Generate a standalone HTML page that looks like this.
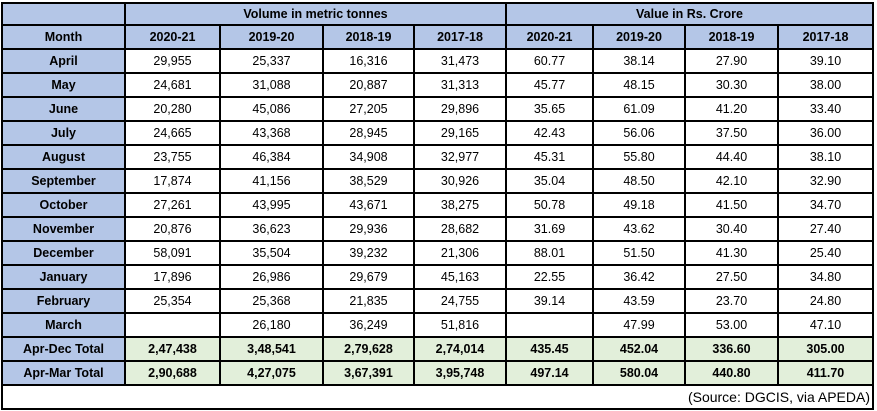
<!DOCTYPE html>
<html><head><style>
html,body{margin:0;padding:0;background:#fff;width:877px;height:411px;overflow:hidden}
table{position:absolute;left:1px;top:2px;border-collapse:collapse;font-family:"Liberation Sans",sans-serif;font-size:12.5px;color:#000;table-layout:fixed}
td{border:2px solid #000;height:22px;padding:0;text-align:center;line-height:22px}
.h{background:#b4c6e7;font-weight:bold}
.t{background:#e2efda;font-weight:bold}
.m{background:#b4c6e7;font-weight:bold}
.s{text-align:right;padding-right:2px;font-size:14px}
</style></head><body>
<table>
<colgroup><col style="width:123px"><col style="width:95px"><col style="width:103px"><col style="width:91px"><col style="width:92px"><col style="width:87px"><col style="width:92px"><col style="width:93px"><col style="width:95px"></colgroup>
<tr><td class="h" style="height:20px;line-height:20px"></td><td class="h" colspan="4" style="height:20px;line-height:20px">Volume in metric tonnes</td><td class="h" colspan="4" style="height:20px;line-height:20px">Value in Rs. Crore</td></tr>
<tr><td class="h">Month</td><td class="h">2020-21</td><td class="h">2019-20</td><td class="h">2018-19</td><td class="h">2017-18</td><td class="h">2020-21</td><td class="h">2019-20</td><td class="h">2018-19</td><td class="h">2017-18</td></tr>
<tr><td class="m">April</td><td>29,955</td><td>25,337</td><td>16,316</td><td>31,473</td><td>60.77</td><td>38.14</td><td>27.90</td><td>39.10</td></tr>
<tr><td class="m">May</td><td>24,681</td><td>31,088</td><td>20,887</td><td>31,313</td><td>45.77</td><td>48.15</td><td>30.30</td><td>38.00</td></tr>
<tr><td class="m">June</td><td>20,280</td><td>45,086</td><td>27,205</td><td>29,896</td><td>35.65</td><td>61.09</td><td>41.20</td><td>33.40</td></tr>
<tr><td class="m">July</td><td>24,665</td><td>43,368</td><td>28,945</td><td>29,165</td><td>42.43</td><td>56.06</td><td>37.50</td><td>36.00</td></tr>
<tr><td class="m">August</td><td>23,755</td><td>46,384</td><td>34,908</td><td>32,977</td><td>45.31</td><td>55.80</td><td>44.40</td><td>38.10</td></tr>
<tr><td class="m">September</td><td>17,874</td><td>41,156</td><td>38,529</td><td>30,926</td><td>35.04</td><td>48.50</td><td>42.10</td><td>32.90</td></tr>
<tr><td class="m">October</td><td>27,261</td><td>43,995</td><td>43,671</td><td>38,275</td><td>50.78</td><td>49.18</td><td>41.50</td><td>34.70</td></tr>
<tr><td class="m">November</td><td>20,876</td><td>36,623</td><td>29,936</td><td>28,682</td><td>31.69</td><td>43.62</td><td>30.40</td><td>27.40</td></tr>
<tr><td class="m">December</td><td>58,091</td><td>35,504</td><td>39,232</td><td>21,306</td><td>88.01</td><td>51.50</td><td>41.30</td><td>25.40</td></tr>
<tr><td class="m">January</td><td>17,896</td><td>26,986</td><td>29,679</td><td>45,163</td><td>22.55</td><td>36.42</td><td>27.50</td><td>34.80</td></tr>
<tr><td class="m">February</td><td>25,354</td><td>25,368</td><td>21,835</td><td>24,755</td><td>39.14</td><td>43.59</td><td>23.70</td><td>24.80</td></tr>
<tr><td class="m">March</td><td></td><td>26,180</td><td>36,249</td><td>51,816</td><td></td><td>47.99</td><td>53.00</td><td>47.10</td></tr>
<tr><td class="m">Apr-Dec Total</td><td class="t">2,47,438</td><td class="t">3,48,541</td><td class="t">2,79,628</td><td class="t">2,74,014</td><td class="t">435.45</td><td class="t">452.04</td><td class="t">336.60</td><td class="t">305.00</td></tr>
<tr><td class="m">Apr-Mar Total</td><td class="t">2,90,688</td><td class="t">4,27,075</td><td class="t">3,67,391</td><td class="t">3,95,748</td><td class="t">497.14</td><td class="t">580.04</td><td class="t">440.80</td><td class="t">411.70</td></tr>
<tr><td colspan="9" class="s">(Source: DGCIS, via APEDA)</td></tr>
</table>
</body></html>
